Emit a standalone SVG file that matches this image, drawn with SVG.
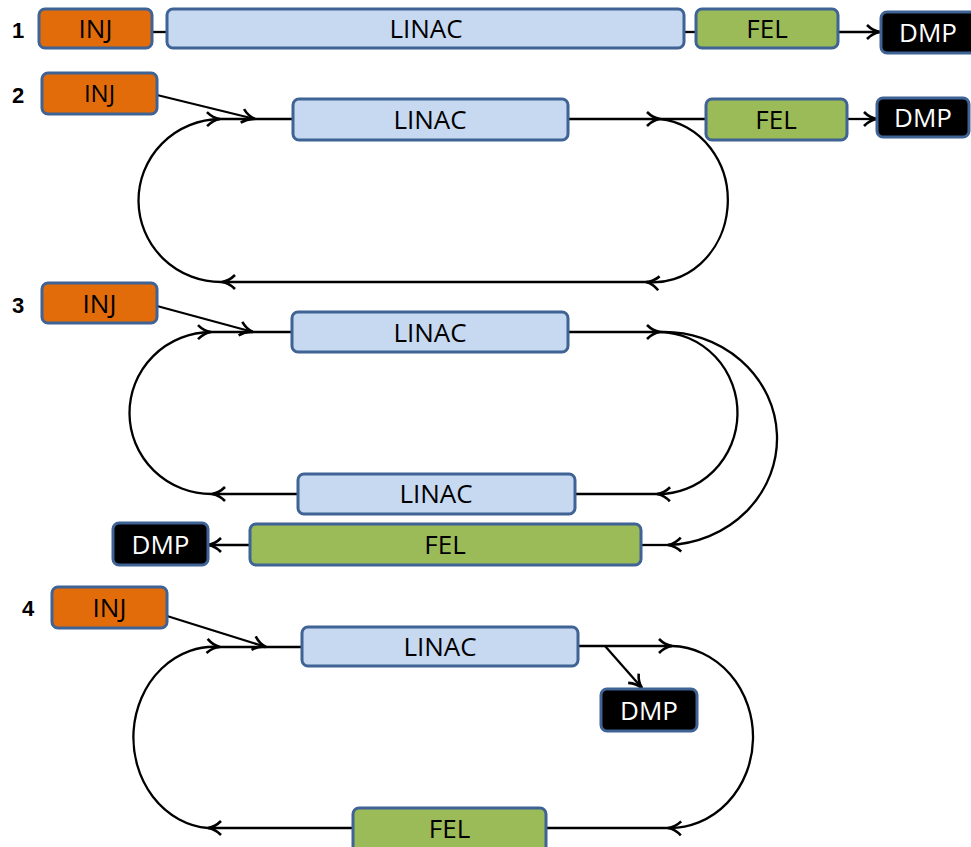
<svg xmlns="http://www.w3.org/2000/svg" width="971" height="847" viewBox="0 0 971 847">
<defs>
<marker id="ah" markerUnits="userSpaceOnUse" markerWidth="20" markerHeight="20" viewBox="0 0 20 20" refX="17" refY="10" orient="auto">
<path d="M4,3 Q10,9 17,10 Q10,11 4,17" fill="none" stroke="#000" stroke-width="2.6" stroke-linejoin="miter"/>
</marker>
<style>
.box{stroke:#3E6394;stroke-width:3}
.inj{fill:#E36C0A}
.lin{fill:#C6D9F1}
.fel{fill:#9BBB59}
.dmp{fill:#000}
.t{font-family:"Open Sans","Noto Sans",sans-serif;font-size:26px;text-anchor:middle;fill:#000}
.tw{fill:#fff}
.num{font-family:"Liberation Sans",Arial,sans-serif;font-weight:bold;font-size:22px;text-anchor:middle;fill:#000}
.c path{fill:none;stroke:#000;stroke-width:2.3}
.a{marker-end:url(#ah)}
</style>
</defs>
<rect width="971" height="847" fill="#fff"/>

<g id="labels">
<text class="num" x="18" y="38">1</text>
<text class="num" x="18" y="103">2</text>
<text class="num" x="18" y="313">3</text>
<text class="num" x="28" y="616">4</text>
</g>

<g class="c" id="connectors">
<!-- row 1 -->
<path d="M152,32 L167,32"/>
<path d="M684,32 L696,32"/>
<path class="a" d="M838,32 L880,32"/>
<!-- row 2 -->
<path class="a" d="M157,95 L255,119"/>
<path class="a" d="M222,282 A82,81 0 0 1 220,119"/>
<path d="M220,119 L293,119"/>
<path class="a" d="M568,119 L660,119"/>
<path d="M660,119 L706,119"/>
<path class="a" d="M660,119 A74,81 0 0 1 646,282"/>
<path class="a" d="M646,282 L222,282"/>
<path class="a" d="M847,119 L877,119"/>
<!-- row 3 -->
<path class="a" d="M157,306 L253,332"/>
<path class="a" d="M212,494 A82,81 0 0 1 211,332"/>
<path d="M211,332 L292,332"/>
<path class="a" d="M568,332 L660,332"/>
<path class="a" d="M660,332 A79,81 0 0 1 657,494"/>
<path d="M575,494 L657,494"/>
<path class="a" d="M660,332 A113,106.5 0 0 1 668,545"/>
<path d="M641,545 L668,545"/>
<path class="a" d="M298,494 L212,494"/>
<path class="a" d="M250,545 L208,545"/>
<!-- row 4 -->
<path class="a" d="M167,616 L266,647"/>
<path class="a" d="M208,828 A80,90 0 0 1 220,647"/>
<path d="M220,647 L302,647"/>
<path class="a" d="M578,646 L672,646"/>
<path class="a" d="M672,646 A83,91 0 0 1 668,828"/>
<path d="M546,828 L668,828"/>
<path class="a" d="M353,828 L208,828"/>
<path class="a" d="M605,646 L642,688"/>
</g>

<g id="inj1"><rect class="box inj" x="39" y="9" width="113" height="39" rx="6"/><text class="t" x="95.5" y="38">INJ</text></g>
<g id="linac1"><rect class="box lin" x="167" y="9" width="517" height="39" rx="6"/><text class="t" x="426" y="38">LINAC</text></g>
<g id="fel1"><rect class="box fel" x="696" y="9" width="142" height="39" rx="6"/><text class="t" x="767" y="38">FEL</text></g>
<g id="dmp1"><rect class="box dmp" x="881" y="12" width="100" height="41" rx="6"/><text class="t tw" x="928" y="42">DMP</text></g>

<g id="inj2"><rect class="box inj" x="42" y="73" width="115" height="41" rx="6"/><text class="t" x="99.5" y="102" style="font-size:24px">INJ</text></g>
<g id="linac2"><rect class="box lin" x="293" y="99" width="275" height="41" rx="6"/><text class="t" x="430" y="129">LINAC</text></g>
<g id="fel2"><rect class="box fel" x="706" y="99" width="141" height="41" rx="6"/><text class="t" x="776" y="129">FEL</text></g>
<g id="dmp2"><rect class="box dmp" x="877" y="98" width="92" height="39" rx="6"/><text class="t tw" x="923" y="127">DMP</text></g>

<g id="inj3"><rect class="box inj" x="42" y="283" width="115" height="40" rx="6"/><text class="t" x="99.5" y="313">INJ</text></g>
<g id="linac3a"><rect class="box lin" x="292" y="312" width="276" height="40" rx="6"/><text class="t" x="430" y="342">LINAC</text></g>
<g id="linac3b"><rect class="box lin" x="298" y="474" width="277" height="40" rx="6"/><text class="t" x="436" y="503">LINAC</text></g>
<g id="fel3"><rect class="box fel" x="250" y="524" width="391" height="41" rx="6"/><text class="t" x="445" y="554">FEL</text></g>
<g id="dmp3"><rect class="box dmp" x="113" y="523" width="95" height="42" rx="6"/><text class="t tw" x="160.5" y="554">DMP</text></g>

<g id="inj4"><rect class="box inj" x="52" y="587" width="115" height="41" rx="6"/><text class="t" x="109.5" y="617">INJ</text></g>
<g id="linac4"><rect class="box lin" x="302" y="627" width="276" height="39" rx="6"/><text class="t" x="440" y="656">LINAC</text></g>
<g id="dmp4"><rect class="box dmp" x="601" y="689" width="96" height="42" rx="6"/><text class="t tw" x="649" y="720">DMP</text></g>
<g id="fel4"><rect class="box fel" x="353" y="808" width="193" height="45" rx="6"/><text class="t" x="449.5" y="838">FEL</text></g>
</svg>
